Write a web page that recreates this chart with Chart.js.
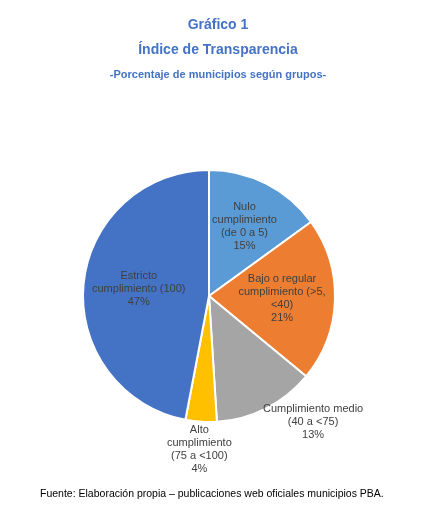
<!DOCTYPE html>
<html lang="es">
<head>
<meta charset="UTF-8">
<script src="https://cdn.jsdelivr.net/npm/chart.js"></script>
<style>
  body { margin: 0; background: #fff; font-family: 'Liberation Sans', Arial, sans-serif; }
  #wrap { position: relative; width: 436px; height: 515px; }
  canvas { position: absolute; left: 0; top: 0; }
  .t { position: absolute; left: 0; width: 436px; text-align: center; color: #4472C4; font-weight: bold; }
  #foot { position: absolute; left: 40px; top: 487px; font-size: 10.5px; color: #000; }
</style>
</head>
<body>
<div id="wrap">
  <canvas id="pie" width="436" height="515"></canvas>
  <div class="t" style="top:16px;font-size:14px;">Gráfico 1</div>
  <div class="t" style="top:41px;font-size:14px;">Índice de Transparencia</div>
  <div class="t" style="top:68px;font-size:11px;">-Porcentaje de municipios según grupos-</div>
  <div id="foot">Fuente: Elaboración propia – publicaciones web oficiales municipios PBA.</div>
</div>
<script>
const categories = [
  ['Nulo', 'cumplimiento', '(de 0 a 5)'],
  ['Bajo o regular', 'cumplimiento (>5,', '<40)'],
  ['Cumplimiento medio', '(40 a <75)'],
  ['Alto', 'cumplimiento', '(75 a <100)'],
  ['Estricto', 'cumplimiento (100)']
];
const values = [15, 21, 13, 4, 47];
const colors = ['#5B9BD5', '#ED7D31', '#A5A5A5', '#FFC000', '#4472C4'];
// label radius as fraction of the pie radius (>1 = outside)
const labelRadius = [0.62, 0.58, 1.12, 1.22, 0.56];
const labelShift = [[0, 0], [0, 0], [40, 0], [0, 0], [0, 0]];

const labelPlugin = {
  id: 'sliceLabels',
  afterDatasetsDraw(chart) {
    const ctx = chart.ctx;
    const meta = chart.getDatasetMeta(0);
    ctx.save();
    ctx.font = '11px "Liberation Sans", Arial, sans-serif';
    ctx.fillStyle = '#404040';
    ctx.textAlign = 'center';
    ctx.textBaseline = 'middle';
    meta.data.forEach((arc, i) => {
      const p = arc.getProps(['x', 'y', 'startAngle', 'endAngle', 'outerRadius'], true);
      const a = (p.startAngle + p.endAngle) / 2;
      const r = p.outerRadius * labelRadius[i];
      const cx = p.x + Math.cos(a) * r + labelShift[i][0];
      const cy = p.y + Math.sin(a) * r + labelShift[i][1];
      const lines = categories[i].concat([values[i] + '%']);
      const lh = 13;
      const y0 = cy - (lines.length - 1) * lh / 2;
      lines.forEach((l, k) => ctx.fillText(l, cx, y0 + k * lh));
    });
    ctx.restore();
  }
};

new Chart(document.getElementById('pie'), {
  type: 'pie',
  data: {
    labels: categories.map(c => c.join(' ')),
    datasets: [{ data: values, backgroundColor: colors, borderColor: '#fff', borderWidth: 2 }]
  },
  options: {
    responsive: false,
    animation: false,
    layout: { padding: { top: 168, bottom: 91, left: 82, right: 100 } },
    plugins: { legend: { display: false }, tooltip: { enabled: false } }
  },
  plugins: [labelPlugin]
});
</script>
</body>
</html>
